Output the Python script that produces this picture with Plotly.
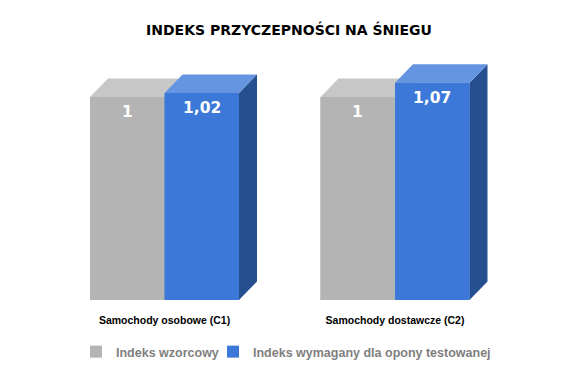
import plotly.graph_objects as go

# ---- data ----
categories = ["Samochody osobowe (C1)", "Samochody dostawcze (C2)"]
series_names = ["Indeks wzorcowy", "Indeks wymagany dla opony testowanej"]
ref_values = [1.00, 1.00]
req_values = [1.02, 1.07]
title_text = "INDEKS PRZYCZEPNOŚCI NA ŚNIEGU"

# ---- style ----
front_colors = ["#b4b4b4", "#3c78d8"]
top_colors = ["#c7c7c7", "#6595e1"]
side_colors = ["#9a9a9a", "#254f8f"]
legend_refs = ["legend", "legend2"]
legend_text_px = [116, 253]
FONT = "Liberation Sans"
HEAVY = "DejaVu Sans"

W, H = 578, 379
ML, MR, MT, MB = 40, 40, 40, 79
PX_PER_X = 230.5
PX_PER_Y = 203.0
X0_PX = 164.5
plot_w = W - ML - MR
plot_h = H - MT - MB
xmin = -(X0_PX - ML) / PX_PER_X
xmax = xmin + plot_w / PX_PER_X
ymax = plot_h / PX_PER_Y

bar_w = 74.5 / PX_PER_X
dx = 18 / PX_PER_X
dy = 18.5 / PX_PER_Y

centers = list(range(len(categories)))
series = [ref_values, req_values]
offsets = [-bar_w / 2, bar_w / 2]


def fmt(v):
    return f"{v:g}".replace(".", ",")


fig = go.Figure()

# legend / base bars (front faces)
for s, vals in enumerate(series):
    fig.add_trace(go.Bar(
        x=[c + offsets[s] for c in centers], y=vals, width=bar_w,
        name=series_names[s], marker=dict(color=front_colors[s], line=dict(width=0)),
        hoverinfo="skip", legend=legend_refs[s]))

# 3D faces
annotations = []
for s, vals in enumerate(series):
    fx, fy, tx, ty, sx, sy = [], [], [], [], [], []
    for c, v in zip(centers, vals):
        xl = c + offsets[s] - bar_w / 2
        xr = xl + bar_w
        fx += [xl, xr, xr, xl, xl, None]
        fy += [0, 0, v, v, 0, None]
        tx += [xl, xr, xr + dx, xl + dx, xl, None]
        ty += [v, v, v + dy, v + dy, v, None]
        sx += [xr, xr + dx, xr + dx, xr, xr, None]
        sy += [0, dy, v + dy, v, 0, None]
        annotations.append(dict(
            x=c + offsets[s], y=v, xref="x", yref="y", text=f"<b>{fmt(v)}</b>",
            showarrow=False, yshift=-15, yanchor="middle",
            font=dict(family=HEAVY, size=15.5, color="white")))
    for xs, ys, col in [(sx, sy, side_colors[s]), (tx, ty, top_colors[s]), (fx, fy, front_colors[s])]:
        fig.add_trace(go.Scatter(x=xs, y=ys, fill="toself", fillcolor=col, mode="none",
                                 line=dict(width=0), showlegend=False, hoverinfo="skip"))

legend_common = dict(orientation="h", xanchor="left", xref="container",
                     yref="container", y=1 - 352 / H, yanchor="middle",
                     font=dict(family=FONT, size=12.5, color="#7f7f7f", weight="bold"),
                     itemwidth=30, bgcolor="rgba(0,0,0,0)")

fig.update_layout(
    width=W, height=H,
    margin=dict(l=ML, r=MR, t=MT, b=MB),
    paper_bgcolor="white", plot_bgcolor="white",
    barmode="overlay",
    title=dict(text=f"<b>{title_text}</b>", x=0.5, xanchor="center",
               xref="container", yref="container", y=1 - 30 / H, yanchor="middle",
               font=dict(family=HEAVY, size=14, color="black")),
    xaxis=dict(range=[xmin, xmax], tickvals=centers,
               ticktext=[f"<b>{c}</b>" for c in categories],
               showgrid=False, zeroline=False, showline=False,
               ticks="outside", ticklen=10, tickcolor="rgba(0,0,0,0)",
               tickfont=dict(family=FONT, size=10.5, color="black")),
    yaxis=dict(range=[0, ymax], visible=False, fixedrange=True),
    legend=dict(legend_common, x=(legend_text_px[0] - 40) / W),
    legend2=dict(legend_common, x=(legend_text_px[1] - 40) / W),
    annotations=annotations,
    showlegend=True,
)

fig.write_html("out.html", post_script="document.body.style.margin='0';",
               config={"displayModeBar": False})
